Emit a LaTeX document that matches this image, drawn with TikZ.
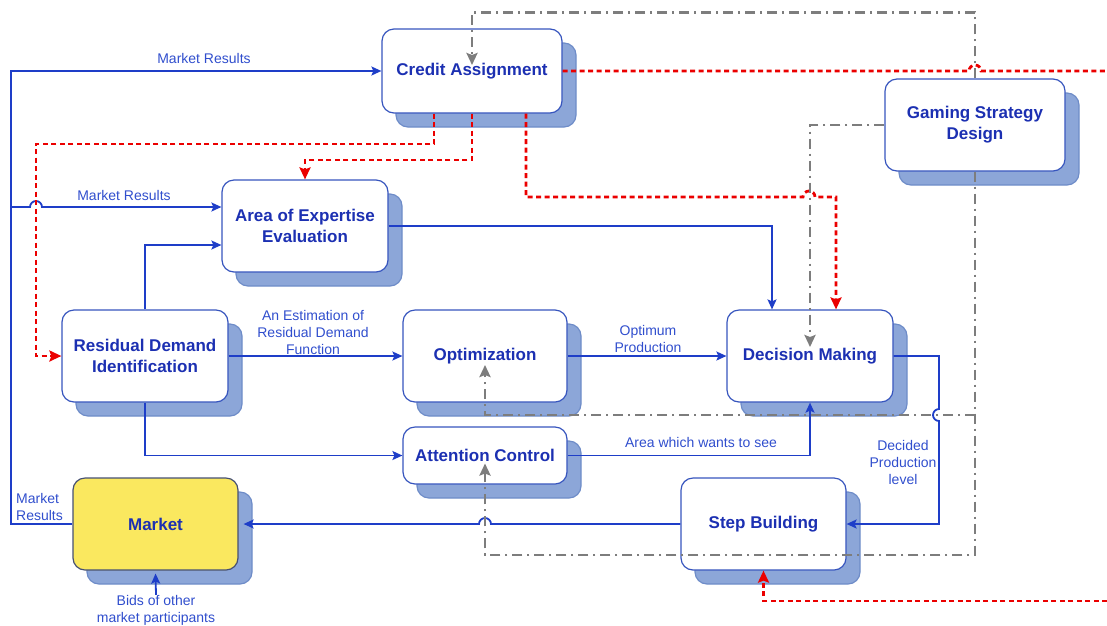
\documentclass[tikz,border=0pt]{standalone}
\usepackage{fontspec}
\setmainfont{Liberation Sans}
\usetikzlibrary{arrows.meta,shadows,calc}
\definecolor{lineblue}{RGB}{30,62,200}
\definecolor{titleblue}{RGB}{28,48,178}
\definecolor{labelblue}{RGB}{48,78,205}
\definecolor{boxborder}{RGB}{55,85,190}
\definecolor{shadowfill}{RGB}{140,166,216}
\definecolor{shadowedge}{RGB}{110,140,200}
\definecolor{marketyellow}{RGB}{250,232,95}
\definecolor{marketedge}{RGB}{70,80,115}
\definecolor{greyline}{RGB}{125,125,125}
\definecolor{redline}{RGB}{235,0,0}
\begin{document}
\begin{tikzpicture}[x=1pt,y=-1pt,
  box/.style={draw=boxborder, line width=1.2pt, rounded corners=12pt, fill=white,
    inner sep=0pt, align=center, text=titleblue,
    font=\fontsize{17}{21}\selectfont\bfseries,
    general shadow={fill=shadowfill, draw=shadowedge, line width=1.2pt,
      shadow xshift=14pt, shadow yshift=-14pt}},
  lbl/.style={text=labelblue, font=\fontsize{14}{17}\selectfont, align=center, inner sep=0pt},
  bl/.style={draw=lineblue, line width=1.8pt},
  bla/.style={bl, -{Stealth[length=10pt,width=9pt,inset=2pt]}},
  rd/.style={draw=redline, line width=2.8pt, dash pattern=on 5pt off 3.5pt},
  rda/.style={rd, -{Stealth[length=12pt,width=11pt,inset=2pt]}},
  gr/.style={draw=greyline, line width=2.8pt, dash pattern=on 10pt off 5pt on 2pt off 5pt},
  gra/.style={gr, -{Stealth[length=12pt,width=11pt,inset=2pt]}}
]
\useasboundingbox (0,0) rectangle (1107,625);

% boxes
\node[box, minimum width=180pt, minimum height=84pt] (CA) at (472,71) {Credit Assignment};
\node[box, minimum width=180pt, minimum height=92pt] (GSD) at (975,125) {Gaming Strategy\\Design};
\node[box, minimum width=166pt, minimum height=92pt] (AoE) at (305,226) {Area of Expertise\\Evaluation};
\node[box, minimum width=166pt, minimum height=92pt] (RDI) at (145,356) {Residual Demand\\Identification};
\node[box, minimum width=164pt, minimum height=92pt] (Opt) at (485,356) {Optimization};
\node[box, minimum width=166pt, minimum height=92pt] (DM) at (810,356) {Decision Making};
\node[box, minimum width=164pt, minimum height=57pt] (AC) at (485,455.5) {Attention Control};
\node[box, fill=marketyellow, draw=marketedge, minimum width=165pt, minimum height=92pt] (Mkt) at (155.5,524) {Market};
\node[box, minimum width=165pt, minimum height=92pt] (SB) at (763.5,524) {Step Building};

% labels
\node[lbl] (l1) at (204,58) {Market Results};
\node[lbl] (l2) at (124,195) {Market Results};
\node[lbl] (l3) at (313,332) {An Estimation of\\Residual Demand\\Function};
\node[lbl] (l4) at (648,339) {Optimum\\Production};
\node[lbl] (l5) at (701,442) {Area which wants to see};
\node[lbl] (l6) at (903,462) {Decided\\Production\\level};
\node[lbl, anchor=west, align=left] (l7) at (16,507) {Market\\Results};
\node[lbl] (l8) at (156,610) {Bids of other\\market participants};

% blue connectors
\draw[bla] (Mkt.west) -- (11,524) -- (11,71) -- (CA.west);
\draw[bla] (11,207) -- (30,207) arc[start angle=180, end angle=360, radius=6] -- ([yshift=19pt]AoE.west);
\draw[bla] (RDI.north) |- ([yshift=-19pt]AoE.west);
\draw[bla] (RDI.east) -- (Opt.west);
\draw[bla] (RDI.south) |- (AC.west);
\draw[bla] (AoE.east) -| ([xshift=-38pt]DM.north);
\draw[bla] (Opt.east) -- (DM.west);
\draw[bla] (AC.east) -| (DM.south);
\draw[bla] (DM.east) -- (939,356) -- (939,409) arc[start angle=270, end angle=90, radius=6] -- (939,524) -- (SB.east);
\draw[bla] (SB.west) -- (491,524) arc[start angle=0, end angle=-180, radius=6] -- ([xshift=5pt]Mkt.east);
\draw[bla] (l8.north) -- ([yshift=-3pt]Mkt.south);

% red dotted connectors
\coordinate (redA) at (1107,71);
\coordinate (redB) at (1107,601);
\draw[rda] ([xshift=-38pt]CA.south) |- (36,144) |- (RDI.west);
\draw[rda] (CA.south) -- (472,160) -| (AoE.north);
\draw[rda] ([xshift=54pt]CA.south) -- (526,197) -- (803,197) arc[start angle=180, end angle=360, radius=6] -- (836,197) -- ([xshift=26pt]DM.north);
\draw[rd] (CA.east) -- (969,71) arc[start angle=180, end angle=360, radius=6] -- (redA);
\draw[rda] (redB) -| (SB.south);

% grey dash-dot connectors
\coordinate (gmid) at (975,415);
\draw[gra] (GSD.north) -- ++(0,-66) -| ([yshift=6pt]CA.center);
\draw[gra] (GSD.west) -| ([yshift=9pt]DM.center);
\draw[gra] (GSD.south) -- (975,555) -| ([yshift=-8pt]AC.center);
\draw[gra] (gmid) -| ([yshift=-9pt]Opt.center);
\end{tikzpicture}
\end{document}
